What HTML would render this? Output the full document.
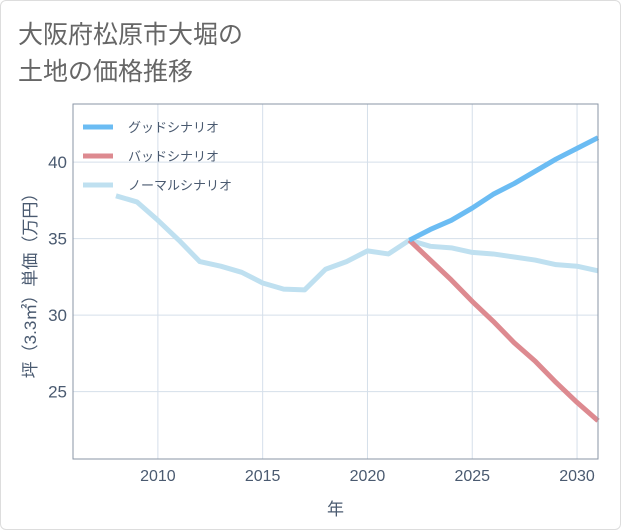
<!DOCTYPE html>
<html><head><meta charset="utf-8"><style>
body{margin:0;background:#fff;}
#wrap{position:relative;width:619px;height:528px;border:1px solid #ddd;border-radius:6px;overflow:hidden;font-family:"Liberation Sans","Noto Sans CJK JP",sans-serif;}
</style></head><body>
<div id="wrap">
<svg id="chart" width="621" height="530" xmlns="http://www.w3.org/2000/svg">
<text x="17" y="42" font-size="25" fill="#666" font-family="Liberation Sans, Noto Sans CJK JP, sans-serif">大阪府松原市大堀の</text>
<text x="17" y="79" font-size="25" fill="#666" font-family="Liberation Sans, Noto Sans CJK JP, sans-serif">土地の価格推移</text>
<g id="grid"></g><g id="series"></g><g id="axes"></g><g id="legend"></g>
</svg>
</div>
<script>
const years=[2008,2009,2010,2011,2012,2013,2014,2015,2016,2017,2018,2019,2020,2021,2022,2023,2024,2025,2026,2027,2028,2029,2030,2031];
const normalValues=[37.8,37.4,36.2,34.9,33.5,33.2,32.8,32.1,31.7,31.65,33.0,33.5,34.2,34.0,34.9,34.5,34.4,34.1,34.0,33.8,33.6,33.3,33.2,32.9];
const futureYears=[2022,2023,2024,2025,2026,2027,2028,2029,2030,2031];
const goodValues=[34.9,35.6,36.2,37.0,37.9,38.6,39.4,40.2,40.9,41.6];
const badValues=[34.9,33.6,32.3,30.9,29.6,28.2,27.0,25.6,24.3,23.1];
const xTicks=[2010,2015,2020,2025,2030];
const yTicks=[25,30,35,40];
const seriesNames=["グッドシナリオ","バッドシナリオ","ノーマルシナリオ"];
const L=72,R=597,T=103,B=458;
const x0=2005.95,x1=2031,y0=20.6,y1=43.8;
const X=v=>L+(v-x0)/(x1-x0)*(R-L);
const Y=v=>B-(v-y0)/(y1-y0)*(B-T);
const NS="http://www.w3.org/2000/svg";
function mk(tag,attrs,parent,txt){const e=document.createElementNS(NS,tag);for(const k in attrs)e.setAttribute(k,attrs[k]);if(txt!=null)e.textContent=txt;parent.appendChild(e);return e;}
const grid=document.getElementById('grid'),axes=document.getElementById('axes'),ser=document.getElementById('series'),leg=document.getElementById('legend');
xTicks.forEach(t=>{const l=mk('line',{x1:X(t),x2:X(t),y1:T,y2:B,stroke:'#d5dfea','stroke-width':1},grid);


const tx=mk('text',{x:X(t),y:B+22,'text-anchor':'middle','font-size':16,fill:'#4a5a70'},axes,t);

});
yTicks.forEach(t=>{const l=mk('line',{x1:L,x2:R,y1:Y(t),y2:Y(t),stroke:'#d5dfea','stroke-width':1},grid);


const tx=mk('text',{x:L-6,y:Y(t)+6,'text-anchor':'end','font-size':17,fill:'#4a5a70'},axes,t);

});
const frame=mk('rect',{x:L,y:T,width:R-L,height:B-T,fill:'none',stroke:'#8a96a6','stroke-width':1},axes);


const xt=mk('text',{x:(L+R)/2,y:514,'text-anchor':'middle','font-size':17,fill:'#4a5a70'},axes,'年');


const yt=mk('text',{x:0,y:0,'text-anchor':'middle','font-size':17,fill:'#4a5a70',transform:'translate(35,'+((T+B)/2)+') rotate(-90)'},axes,'坪（3.3㎡）単価（万円）');


function line(xs,vs,color,name){const p=mk('polyline',{points:xs.map((x,i)=>X(x)+','+Y(vs[i])).join(' '),fill:'none',stroke:color,'stroke-width':5,'stroke-linejoin':'round'},ser);

}
line(years,normalValues,'#bfe0f0','normal-scenario-line');
line(futureYears,badValues,'#dd8a90','bad-scenario-line');
line(futureYears,goodValues,'#6bbcf3','good-scenario-line');
const colors=['#6bbcf3','#dd8a90','#bfe0f0'];
seriesNames.forEach((n,i)=>{const y=126+i*29;
const g=mk('g',{},leg);


mk('line',{x1:82,x2:112,y1:y,y2:y,stroke:colors[i],'stroke-width':5},g);
mk('text',{x:127,y:y+5,'font-size':13,fill:'#4a5a70'},g,n);});
</script>
</body></html>
